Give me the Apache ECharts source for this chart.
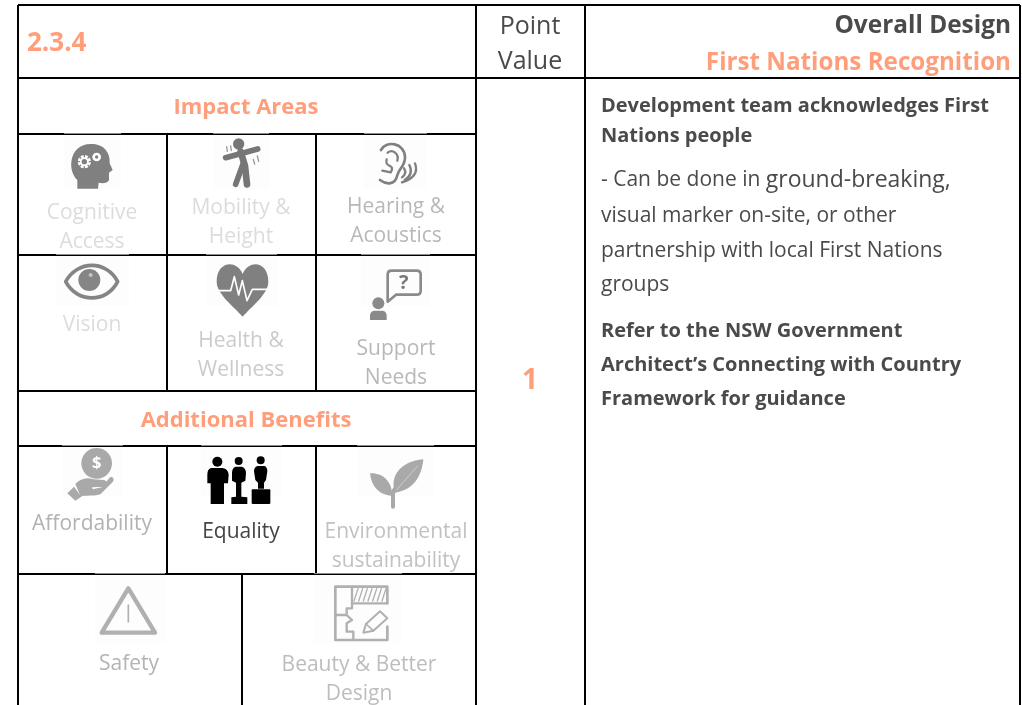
<!DOCTYPE html>
<html><head><meta charset="utf-8">
<style>html,body{margin:0;padding:0;background:#fff}#c{width:1022px;height:705px}</style>
<script src="https://cdn.jsdelivr.net/npm/echarts@6/dist/echarts.min.js"></script>
</head><body><div id="c"></div>
<script>
// ---- content ----
const itemCode = '2.3.4';
const pointHeader = ['Point', 'Value'];
const pointValue = '1';
const sectionTitle = 'Overall Design';
const itemTitle = 'First Nations Recognition';
const impactHeader = 'Impact Areas';
const benefitsHeader = 'Additional Benefits';
const impactLabels = [['Cognitive','Access'],['Mobility &','Height'],['Hearing &','Acoustics'],['Vision'],['Health &','Wellness'],['Support','Needs']];
const benefitLabels = [['Affordability'],['Equality'],['Environmental','sustainability'],['Safety'],['Beauty & Better','Design']];
const boldLead = ['Development team acknowledges First','Nations people'];
const bodyFirstSmall = '- Can be done in ';
const bodyFirstLarge = 'ground-breaking,';
const bodyLines = ['visual marker on-site, or other','partnership with local First Nations','groups'];
const boldRef = ['Refer to the NSW Government','Architect\u2019s Connecting with Country','Framework for guidance'];

// ---- layout ----
const FONT = '"Open Sans"', ORANGE = '#ff9e7b', DARK = '#4a4a4a';
const els = [];
function T(s, x, y, o) {
  o = o || {};
  els.push({type:'text', z:5, x, y, style:{text:s, fill:o.c||DARK, font:(o.w||'normal')+' '+(o.s||21)+'px '+FONT, textAlign:o.a||'center', textVerticalAlign:'middle'}});
}
function L(x1,y1,x2,y2){ els.push({type:'line', z:3, shape:{x1,y1,x2,y2}, style:{stroke:'#000', lineWidth:2}}); }
[[5,18,1020],[78,18,1020],[134,18,476],[255,18,476],[391,18,476],[446,18,476],[574,18,476]].forEach(r=>L(r[1],r[0],r[2],r[0]));
[[18,5,705],[476,5,705],[585,5,705],[1020,5,705],[167,134,391],[316,134,391],[167,446,574],[316,446,574],[242,574,705]].forEach(r=>L(r[0],r[1],r[0],r[2]));

// headers
T(itemCode,27,44,{c:ORANGE,w:'bold',s:26,a:'left'});
T(pointHeader[0],530,27,{s:25}); T(pointHeader[1],530,62,{s:25});
T(sectionTitle,1011,26,{w:'bold',s:24.4,a:'right'});
T(itemTitle,1011,63,{w:'bold',s:24.2,a:'right',c:ORANGE});
T(impactHeader,246,108,{c:ORANGE,w:'bold',s:22});
T(benefitsHeader,246,421,{c:ORANGE,w:'bold',s:22});
T(pointValue,530,381,{c:ORANGE,w:'bold',s:28});

// icon-cell labels
const impactPos = [[92,213,'#dcdcdc'],[241,208,'#dcdcdc'],[396,207,'#b8b8b8'],[92,325,'#dcdcdc'],[241,341,'#cbcbcb'],[396,349,'#b8b8b8']];
const benefitPos = [[92,524,'#b2b2b2'],[241,532,'#444'],[396,532,'#c2c2c2'],[129,664,'#b4b4b4'],[359,665,'#bdbdbd']];
function cellLabels(labels,pos){ labels.forEach((ls,i)=>ls.forEach((t,j)=>T(t,pos[i][0],pos[i][1]+j*29,{c:pos[i][2]}))); }
cellLabels(impactLabels,impactPos); cellLabels(benefitLabels,benefitPos);

// right-hand text
boldLead.forEach((t,i)=>T(t,601,106+i*30,{a:'left',w:'bold',s:20}));
els.push({type:'text', z:5, x:601, y:180, style:{rich:{a:{font:'21px '+FONT,fill:DARK},b:{font:'23px '+FONT,fill:DARK}}, text:'{a|'+bodyFirstSmall+'}{b|'+bodyFirstLarge+'}', textAlign:'left', textVerticalAlign:'middle'}});
const bodyY = [216,251,285];
bodyLines.forEach((t,i)=>T(t,601,bodyY[i],{a:'left',s:21}));
boldRef.forEach((t,i)=>T(t,601,331+i*34,{a:'left',w:'bold',s:20}));

// faint image boxes + their grey top edge over the border line
[[64,135,57,54],[213,135,56,54],[364,135,63,54],[56,256,73,50],[206,256,71,50],[361,256,69,50],[62,447,61,50],[201,447,81,50],[357,447,77,50],[95,575,70,68],[314,575,88,68]].forEach(b=>{
  els.push({type:'rect',z:1,shape:{x:b[0],y:b[1],width:b[2],height:b[3]},style:{fill:'#fdfdfd'}});
  els.push({type:'rect',z:6,shape:{x:b[0],y:b[1]-2,width:b[2],height:1},style:{fill:'#8c8c8c'}});
});

// ---- icons, authored in a 3x space ----
function P(d,fill,stroke,lw){ return {type:'path', shape:{pathData:d}, style:{fill:fill||'none', stroke:stroke||'none', lineWidth:lw||0, lineCap:'round', lineJoin:'round'}}; }
function C(cx,cy,r,fill){ return {type:'circle', shape:{cx,cy,r}, style:{fill}}; }
const g1='#808080', g2='#a9a9a9', g3='#b0b0b0';
const icons = [];
function G(oy,children){ icons.push({type:'group', x:0, y:oy, scaleX:1/3, scaleY:1/3, children}); }
// brain
G(0,[
 P('M272 432C312 430 332 460 329 490L338 510L327 518L327 540C322 552 305 550 296 548L294 566L232 566L232 540C217 525 212 505 214 485C218 452 240 432 272 432Z',g1),
 C(253,485,20,'#fff'),C(253,485,8,g1),C(290,471,13,'#fff'),C(290,471,5,g1),
 P('M253 462L253 470M253 500L253 508M230 485L238 485M268 485L276 485M237 469L242 474M269 469L264 474M237 501L242 496M269 501L264 496','none',g1,4),
]);
// mobility
G(0,[
 C(716,432,17,'#767676'),
 P('M677 473L773 447','none','#767676',17),
 P('M722 455L735 498L741 553','none','#767676',20),
 P('M730 490L707 553','none','#767676',17),
 P('M680 440L682 454M692 438L694 452M760 478L764 492M772 468L776 484','none','#999',4),
]);
// ear
G(0,[
 P('M1143 450C1160 420 1212 428 1215 470C1217 497 1197 505 1192 525C1186 555 1160 555 1140 540','none',g1,8),
 P('M1160 478C1152 505 1188 490 1172 517L1147 512M1163 458C1178 446 1198 462 1192 482','none',g1,7),
 P('M1212 505Q1222 520 1206 532M1228 495Q1242 522 1214 540M1245 490Q1260 530 1206 547','none',g1,7),
]);
// eye
G(250,[
 P('M197 95C232 30 320 30 353 95C320 160 232 160 197 95Z','none','#858585',11),
 C(268,90,33,'#858585'),C(272,75,6,'#c4c4c4'),
]);
// heart
G(250,[
 P('M728 72C710 28 650 33 650 95C650 132 702 170 728 200C754 170 805 132 805 95C805 33 746 28 728 72Z',g1),
 P('M652 122L692 122L703 80L716 135L727 92L741 152L757 118L800 118','none','#fff',5),
]);
// support
G(250,[
 P('M1175 62L1250 62Q1262 62 1262 74L1262 122Q1262 134 1250 134L1188 134L1163 155L1163 74Q1163 62 1175 62Z','none','#8a8a8a',8),
 {type:'text',style:{text:'?',x:1211,y:100,fill:'#7a7a7a',font:'bold 60px '+FONT,textAlign:'center',textVerticalAlign:'middle'}},
 C(1135,160,18,'#8a8a8a'),
 P('M1110 210L1110 195Q1112 182 1125 182L1148 182Q1160 184 1160 198L1160 210Z','#8a8a8a'),
]);
// affordability
G(440,[
 C(290,70,46,g2),
 {type:'text',style:{text:'$',x:290,y:70,fill:'#fff',font:'bold 50px '+FONT,textAlign:'center',textVerticalAlign:'middle'}},
 P('M226 132C240 116 262 110 280 118L312 120C324 122 322 138 310 140L276 142L278 148L305 142L330 112C340 108 344 120 338 126L302 162C285 170 258 164 242 170L226 132Z',g2),
 P('M202 160L222 140L244 170L226 182Z',g2),
]);
// equality
G(440,[
 C(652,65,15,'#000'),C(716,63,12,'#000'),C(782,61,12,'#000'),
 P('M634 84L668 84Q684 86 686 104L684 130L672 130L672 192L632 192L632 130L622 130L622 104Q622 86 634 84Z','#000'),
 P('M706 80L726 80Q738 84 738 100L736 122L724 128L724 170L742 172L742 192L694 192L694 172L708 170L708 128L696 122L696 100Q696 84 706 80Z','#000'),
 P('M772 78L794 78Q802 82 802 94L798 120L792 128L792 146L774 146L774 128L766 120L762 94Q762 82 772 78Z','#000'),
 {type:'rect',shape:{x:755,y:148,width:56,height:44,r:3},style:{fill:'#000'}},
]);
// leaf
G(440,[
 P('M1179 200L1179 160C1180 150 1183 148 1186 145','none',g2,12),
 P('M1270 58C1200 64 1168 110 1185 158C1240 150 1265 110 1270 58Z',g2),
 P('M1110 100C1150 98 1176 125 1177 168C1140 166 1114 142 1110 100Z',g2),
 P('M1190 150C1210 125 1230 105 1252 78','none','#e0e0e0',2),
]);
// safety
G(440,[
 P('M385 445L465 578L305 578Z','none',g3,13),
 P('M385 495L385 545','none',g3,5),
]);
// beauty
const hatch=[]; for(const x of [1062,1076,1090,1104,1118,1132,1146]) hatch.push('M'+x+' 483L'+(x+12)+' 446');
G(440,[
 P('M1162 490L1162 440L1006 440L1006 600L1162 600L1162 560','none',g3,8),
 P('M1056 440L1056 490L1162 490','none',g3,7),
 P('M1006 525L1040 525L1040 505L1056 505L1056 490M1040 525L1056 540L1040 550L1040 575L1060 575L1060 600','none',g3,7),
 P(hatch.join(''),'none',g3,4),
 P('M1090 578L1098 552L1140 514L1162 535L1120 572Z','none',g3,6),
 P('M1098 552L1120 572','none',g3,5),
]);

const chart = echarts.init(document.getElementById('c'), null, {renderer:'canvas'});
chart.setOption({
  animation:false, backgroundColor:'#fff',
  graphic:{elements:els},
  series:[{type:'custom', coordinateSystem:'none', z:4, silent:true, clip:false,
    data:icons.map((_,i)=>[i]),
    renderItem:(p)=>icons[p.dataIndex]}]
});
</script></body></html>
